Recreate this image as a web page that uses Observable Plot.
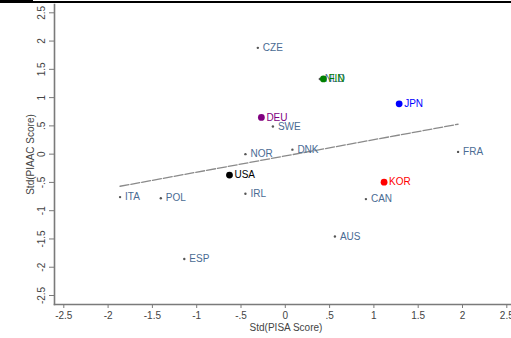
<!DOCTYPE html>
<html>
<head>
<meta charset="utf-8">
<script src="https://cdn.jsdelivr.net/npm/d3@7"></script>
<script src="https://cdn.jsdelivr.net/npm/@observablehq/plot@0.6"></script>
<style>
  body { margin: 0; background: #fff; }
  #wrap { position: relative; width: 511px; height: 338px; overflow: hidden; }
  #rule-top { position: absolute; left: 0; top: 1px; width: 511px; height: 1.5px; background: #000; }
  #rule-top-lead { position: absolute; left: 0; top: 0; width: 33px; height: 3px; background: #000; }
  svg { display: block; }
</style>
</head>
<body>
<div id="wrap">
  <div id="chart"></div>
  <div id="rule-top"></div>
  <div id="rule-top-lead"></div>
</div>
<script>
// Standardised PISA and PIAAC scores by country
const countries  = ["CZE", "NLD", "FIN", "JPN", "DEU", "SWE", "NOR", "DNK", "FRA", "USA", "ITA", "POL", "IRL", "ESP", "KOR", "CAN", "AUS"];
const pisaScore  = [-0.31, 0.39, 0.43, 1.285, -0.27, -0.14, -0.45, 0.08, 1.95, -0.63, -1.865, -1.405, -0.45, -1.14, 1.115, 0.91, 0.56];
const piaacScore = [1.88, 1.33, 1.33, 0.89, 0.65, 0.49, 0.0, 0.08, 0.04, -0.37, -0.76, -0.78, -0.70, -1.855, -0.495, -0.795, -1.456];
const tickValues = [-2.5, -2, -1.5, -1, -0.5, 0, 0.5, 1, 1.5, 2, 2.5];

// Countries drawn with a larger coloured marker
const highlight = { USA: "#000000", DEU: "#800080", FIN: "#008000", JPN: "#0000ff", KOR: "#ff0000" };

const data = countries.map((c, i) => ({ country: c, pisa: pisaScore[i], piaac: piaacScore[i] }));
const isHi = d => highlight[d.country] !== undefined;

// Stata-style tick labels: ".5", "-.5"
const fmt = d => d === 0 ? "0" : String(d).replace("0.", ".");

const labelColor = "#4a6b93";
const axisColor = "#7a7a7a";
const tickText = "#444";

const chart = Plot.plot({
  width: 511,
  height: 338,
  marginLeft: 54,
  marginRight: 0,
  marginTop: 4,
  marginBottom: 34,
  x: { domain: [-2.5, 2.5], range: [63.3, 506.3] },
  y: { domain: [-2.5, 2.5], range: [295, 12.3] },
  style: { fontFamily: "'Liberation Sans', Arial, sans-serif", background: "#fff" },
  marks: [
    Plot.frame({ anchor: "left", stroke: axisColor, strokeWidth: 1.6 }),
    Plot.frame({ anchor: "bottom", stroke: axisColor, strokeWidth: 1.6 }),
    Plot.axisX({
      ticks: tickValues, tickFormat: fmt, tickSize: 4, tickPadding: 3,
      stroke: axisColor, fill: tickText, fontSize: 10, label: null
    }),
    Plot.axisY({
      ticks: tickValues, tickFormat: () => "", tickSize: 5,
      stroke: axisColor, label: null
    }),
    Plot.text(tickValues, {
      y: d => d, text: fmt, frameAnchor: "left", dx: -12.3,
      rotate: -90, textAnchor: "middle", lineAnchor: "middle",
      fill: tickText, fontSize: 10
    }),
    Plot.text(["Std(PIAAC Score)"], {
      frameAnchor: "left", dx: -23.5, rotate: -90, textAnchor: "middle",
      lineAnchor: "middle", fill: tickText, fontSize: 10
    }),
    Plot.text(["Std(PISA Score)"], {
      frameAnchor: "bottom", dx: 3, dy: 23, textAnchor: "middle",
      lineAnchor: "middle", fill: tickText, fontSize: 10
    }),
    Plot.linearRegressionY(data, {
      x: "pisa", y: "piaac", ci: 0,
      stroke: "#8a8a8a", strokeWidth: 1.3, strokeDasharray: "9,2"
    }),
    Plot.dot(data, { filter: d => !isHi(d), x: "pisa", y: "piaac", r: 1.2, fill: "#555", stroke: "none" }),
    Plot.text(data, {
      filter: d => !isHi(d), x: "pisa", y: "piaac", text: "country",
      dx: 5, textAnchor: "start", lineAnchor: "middle", fill: labelColor, fontSize: 10
    }),
    Plot.dot(data, { filter: isHi, x: "pisa", y: "piaac", r: 3.4, fill: d => highlight[d.country], stroke: "none" }),
    Plot.text(data, {
      filter: isHi, x: "pisa", y: "piaac", text: "country",
      dx: 5, textAnchor: "start", lineAnchor: "middle",
      fill: d => highlight[d.country], fontSize: 10
    })
  ]
});

document.getElementById("chart").appendChild(chart);
</script>
</body>
</html>
